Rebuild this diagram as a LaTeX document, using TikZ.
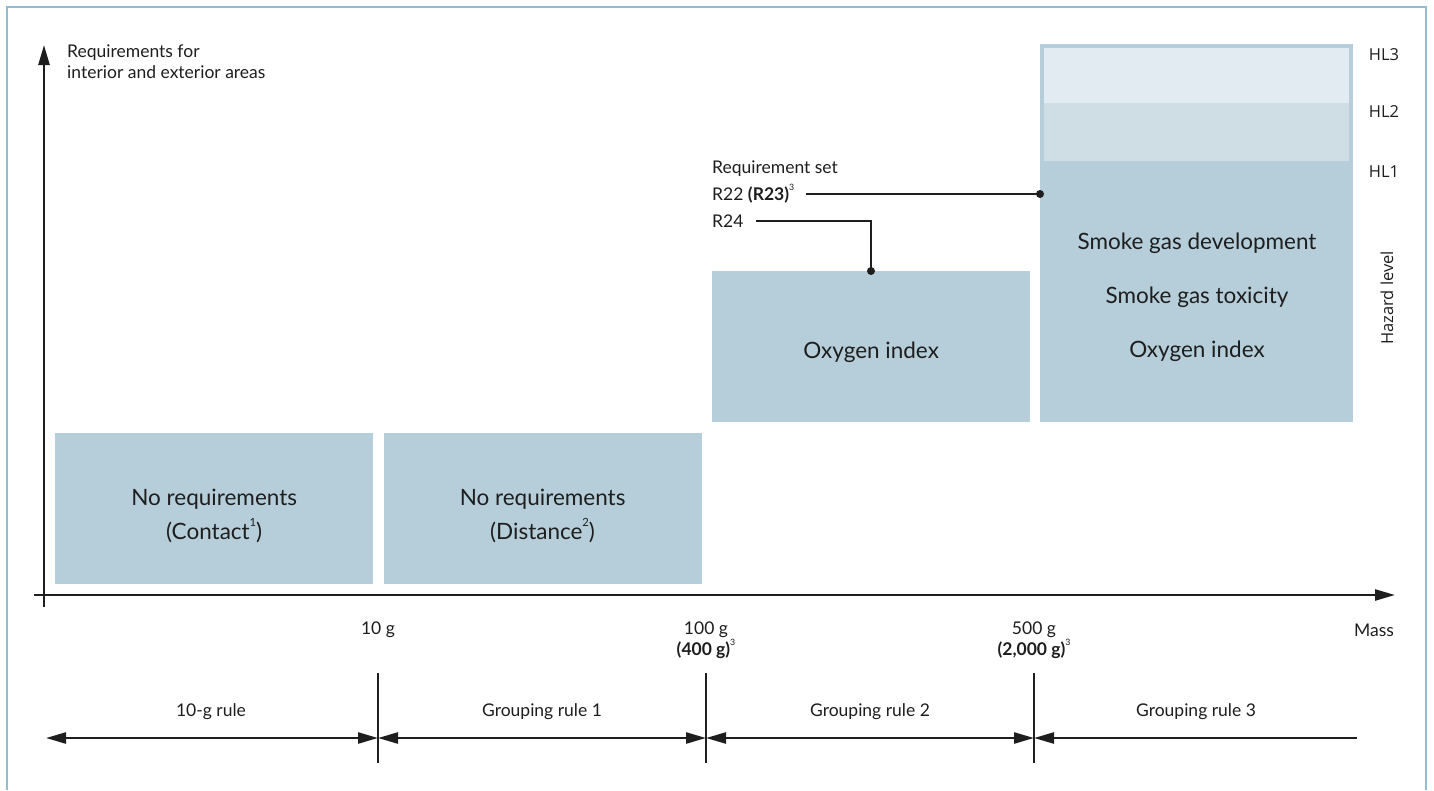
\documentclass[tikz,border=0pt]{standalone}
\usepackage{fontspec}
\setmainfont{Lato}
\newfontfamily\hlfont{Open Sans}
\usetikzlibrary{arrows.meta,positioning}
\definecolor{boxblue}{HTML}{B6CED9}
\definecolor{hltwo}{HTML}{CFDEE5}
\definecolor{hlthree}{HTML}{E3EBF2}
\definecolor{framecol}{HTML}{8FBFD0}
\definecolor{txt}{HTML}{1E1E1E}
\newcommand\boxfont{\fontsize{22.5}{34}\selectfont}
\newcommand\labfont{\fontsize{17.5}{21}\selectfont}
\newcommand\levfont{\hlfont\fontsize{16.5}{18}\selectfont}
\newcommand\fnote[1]{\raisebox{0.55em}{\fontsize{0.5em}{1em}\selectfont #1}}
\tikzset{bigtip/.tip={Triangle[length=20pt,width=11pt]}}
\begin{document}
\begin{tikzpicture}[x=1pt,y=-1pt,
  reqbox/.style={fill=boxblue,inner sep=0pt,minimum width=318pt,minimum height=151pt},
  boxtxt/.style={text=txt,inner sep=0pt,align=center,font=\boxfont},
  lab/.style={text=txt,inner sep=0pt,font=\labfont},
  lev/.style={text=txt,inner sep=0pt,font=\levfont},
  axis/.style={line width=2.4pt,draw=txt},
  rulearrow/.style={line width=2.4pt,draw=txt},
  tickline/.style={line width=1.2pt,draw=txt},
  lead/.style={line width=2pt,draw=txt},
  dot/.style={circle,fill=txt,inner sep=0pt,minimum size=8pt}]
\useasboundingbox (0,0) rectangle (1434,790);
\fill[white] (0,0) rectangle (1434,790);
\draw[framecol,line width=2pt] (7,790) -- (7,7) -- (1426,7) -- (1426,790);

% boxes
\node[reqbox,anchor=north west] (contact) at (55,433) {};
\node[reqbox,right=10pt of contact] (distance) {};
\node[reqbox,anchor=north west] (oxygen) at (712,271) {};
\node[reqbox,minimum width=313pt,minimum height=378pt,anchor=north west] (hlbox) at (1040,44) {};
\fill[hlthree] (1044,48) rectangle (1349,103);
\fill[hltwo] (1044,103) rectangle (1349,161);
\node[boxtxt] (contacttxt) at ([yshift=-7pt]contact.center) {No requirements\\(Contact\fnote{1})};
\node[boxtxt] (distancetxt) at ([yshift=-7pt]distance.center) {No requirements\\(Distance\fnote{2})};
\node[boxtxt] (oxygentxt) at ([yshift=-6pt]oxygen.center) {Oxygen index};
\node[boxtxt,font=\fontsize{22.5}{54}\selectfont] (smoke) at (1197,297)
  {Smoke gas development\\Smoke gas toxicity\\Oxygen index};

% hazard levels
\node[lev] (hl3) at (1384,55) {HL3};
\node[lev] (hl2) at (1384,112) {HL2};
\node[lev] (hl1) at (1384,172) {HL1};
\node[lev,rotate=90] (hazard) at (1387,298) {Hazard level};

% axes
\draw[axis,-{bigtip}] (44,607) -- (44,45);
\draw[axis,-{bigtip}] (34,595) -- (1395,595);
\node[lab,align=left,anchor=north west] (ylabel) at (67,45) {Requirements for\\interior and exterior areas};
\node[lab] (mass) at (1374,630) {Mass};
\node[lab] (t10) at (378,630) {10 g};
\node[lab,align=center] (t100) at (706,640) {100 g\\\textbf{(400 g)}\fnote{3}};
\node[lab,align=center] (t500) at (1034,640) {500 g\\\textbf{(2,000 g)}\fnote{3}};

% requirement sets
\node[lab,anchor=west] (reqset) at (712,169) {Requirement set};
\node[lab,anchor=west] (r22) at (712,194) {R22 \textbf{(R23)}\fnote{3}};
\node[lab,anchor=west] (r24) at (712,221) {R24};
\node[dot] (pin1) at (1040,194) {};
\node[dot] (pin2) at (871,271) {};
\draw[lead] ([xshift=12pt]r22.east |- pin1) -- (pin1.center);
\draw[lead] ([xshift=12pt]r24.east) -| (pin2.center);

% grouping rules
\coordinate (m0) at (46,738);
\foreach \x/\n in {378/1,706/2,1034/3}{
  \coordinate (m\n) at (\x,738);
  \draw[tickline] (\x,673) -- (\x,763);
}
\coordinate (m4) at (1357,738);
\draw[rulearrow,{bigtip}-{bigtip}] (m0) -- (m1);
\draw[rulearrow,{bigtip}-{bigtip}] (m1) -- (m2);
\draw[rulearrow,{bigtip}-{bigtip}] (m2) -- (m3);
\draw[rulearrow,{bigtip}-] (m3) -- (m4);
\node[lab] (rule0) at (211,712) {10-g rule};
\node[lab] (rule1) at (542,712) {Grouping rule 1};
\node[lab] (rule2) at (870,712) {Grouping rule 2};
\node[lab] (rule3) at (1196,712) {Grouping rule 3};
\end{tikzpicture}
\end{document}
